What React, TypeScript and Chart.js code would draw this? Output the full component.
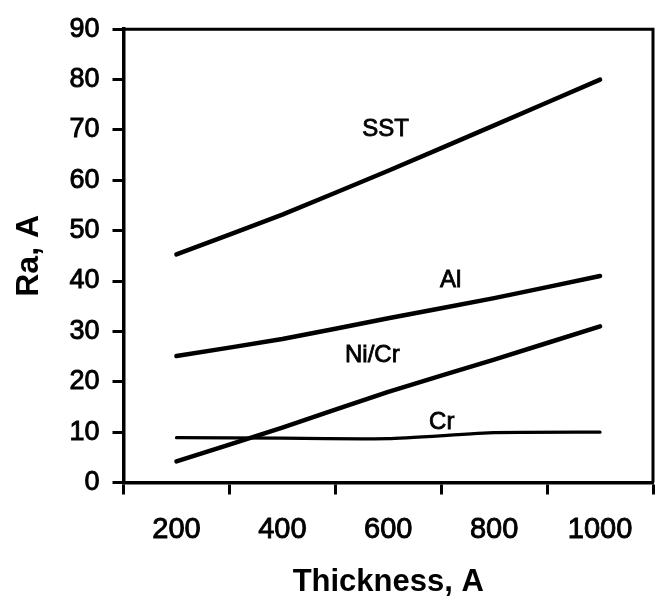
import React, { useEffect, useRef } from "react";
import { Chart, registerables } from "chart.js";

Chart.register(...registerables);

// Data
const thickness = ["200", "400", "600", "800", "1000"];
const sst = [45.3, 53.2, 61.9, 70.9, 80.0];
const al = [25.1, 28.5, 32.6, 36.6, 41.0];
const niCr = [4.2, 10.9, 18.0, 24.4, 31.0];
const cr = [8.9, 8.8, 8.7, 9.9, 10.0];

const yMin = 0;
const yMax = 90;
const yStep = 10;

// Series annotation labels (thickness in A, Ra in A)
const noteText = ["SST", "Al", "Ni/Cr", "Cr"];
const noteThickness = [595, 718, 570, 701];
const noteRa = [70.2, 40.2, 25.3, 12.0];

const FONT = "'Liberation Sans', Arial, Helvetica, sans-serif";

const framePlugin = {
  id: "frame",
  afterDraw(chart: any) {
    const { ctx, chartArea } = chart;
    ctx.save();
    ctx.strokeStyle = "#000";
    ctx.lineWidth = 3;
    ctx.beginPath();
    ctx.moveTo(chartArea.left, chartArea.top);
    ctx.lineTo(chartArea.right, chartArea.top);
    ctx.lineTo(chartArea.right, chartArea.bottom);
    ctx.stroke();
    ctx.restore();
  },
};

const notesPlugin = {
  id: "notes",
  afterDatasetsDraw(chart: any) {
    const { ctx, scales } = chart;
    const xs = scales.x;
    const ys = scales.y;
    ctx.save();
    ctx.fillStyle = "#000";
    ctx.strokeStyle = "#000";
    ctx.lineWidth = 0.8;
    ctx.font = `24px ${FONT}`;
    ctx.textAlign = "center";
    ctx.textBaseline = "middle";
    noteText.forEach((t, i) => {
      const idx = (noteThickness[i] - 200) / 200;
      const px = xs.getPixelForValue(idx);
      const py = ys.getPixelForValue(noteRa[i]);
      ctx.fillText(t, px, py);
      ctx.strokeText(t, px, py);
    });
    ctx.restore();
  },
};

export default function App() {
  const canvasRef = useRef<HTMLCanvasElement | null>(null);

  useEffect(() => {
    if (!canvasRef.current) return;
    const mk = (data: number[], w: number) => ({
      data,
      borderColor: "#000",
      borderWidth: w,
      pointRadius: 0,
      tension: 0.15,
      fill: false,
      borderCapStyle: "round" as const,
      borderJoinStyle: "round" as const,
    });
    const chart = new Chart(canvasRef.current, {
      type: "line",
      data: {
        labels: thickness,
        datasets: [
          { label: "SST", ...mk(sst, 4.5) },
          { label: "Al", ...mk(al, 4.5) },
          { label: "Ni/Cr", ...mk(niCr, 4.5) },
          { label: "Cr", ...mk(cr, 3.2) },
        ],
      },
      options: {
        animation: false,
        responsive: false,
        devicePixelRatio: 1,
        layout: { padding: { top: 25, right: 15, bottom: 0, left: 0 } },
        plugins: {
          legend: { display: false },
          tooltip: { enabled: false },
        },
        scales: {
          x: {
            type: "category",
            offset: true,
            border: { display: true, color: "#000", width: 3.5 },
            grid: {
              display: true,
              offset: true,
              drawOnChartArea: false,
              drawTicks: true,
              tickLength: 12,
              tickWidth: 3,
              tickColor: "#000",
            },
            ticks: {
              color: "#000",
              font: { family: FONT, size: 29 },
              padding: 18,
              maxRotation: 0,
              autoSkip: false,
              textStrokeColor: "#000",
              textStrokeWidth: 0.9,
            },
            title: {
              display: true,
              text: "Thickness, A",
              color: "#000",
              font: { family: FONT, size: 31, weight: "bold" },
              padding: { top: 0, bottom: -2 },
            },
            afterFit(scale: any) {
              scale.height = 116.5;
            },
          },
          y: {
            min: yMin,
            max: yMax,
            border: { display: true, color: "#000", width: 3.5 },
            grid: {
              display: true,
              drawOnChartArea: false,
              drawTicks: true,
              tickLength: 11,
              tickWidth: 3,
              tickColor: "#000",
            },
            ticks: {
              stepSize: yStep,
              color: "#000",
              font: { family: FONT, size: 27 },
              padding: 13,
              textStrokeColor: "#000",
              textStrokeWidth: 0.9,
            },
            title: {
              display: true,
              text: "Ra, A",
              color: "#000",
              font: { family: FONT, size: 32, weight: "bold" },
              padding: { top: 10, bottom: 0 },
            },
            afterFit(scale: any) {
              scale.width = 123.5;
            },
          },
        },
      },
      plugins: [framePlugin, notesPlugin],
    });
    return () => chart.destroy();
  }, []);

  return (
    <div style={{ position: "absolute", left: 0, top: 0, width: 668, height: 599, background: "#fff" }}>
      <canvas ref={canvasRef} width={668} height={599} />
    </div>
  );
}
